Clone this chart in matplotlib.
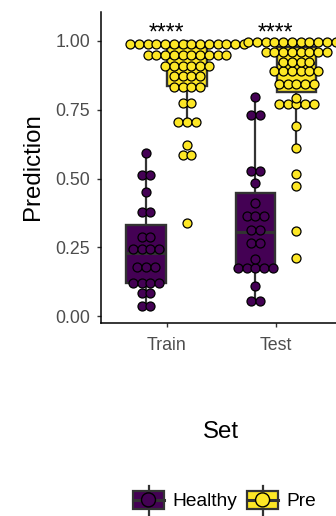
import numpy as np
import matplotlib
matplotlib.use("Agg")
import matplotlib.pyplot as plt
from matplotlib.patches import Rectangle, Circle, Patch
from matplotlib.lines import Line2D
from matplotlib.legend_handler import HandlerBase

plt.rcParams['font.family'] = ['Liberation Sans', 'DejaVu Sans']

# ---- data -------------------------------------------------------------
sets = ["Train", "Test"]
groups = ["Healthy", "Pre"]
group_colors = ["#440154", "#FDE725"]
signif_labels = ["****", "****"]
y_ticks = [0.00, 0.25, 0.50, 0.75, 1.00]

train_healthy = [0.032, 0.040, 0.080, 0.090, 0.113, 0.118, 0.124, 0.129,
                 0.170, 0.177, 0.184, 0.228, 0.238, 0.248, 0.258,
                 0.280, 0.292, 0.372, 0.384, 0.450, 0.508, 0.520, 0.594]
train_pre = [0.339, 0.586, 0.588, 0.620, 0.700, 0.707, 0.714, 0.768, 0.778,
             0.828, 0.832, 0.836, 0.838, 0.868, 0.872, 0.875, 0.878,
             0.902, 0.905, 0.908, 0.910, 0.912, 0.914,
             0.940, 0.942, 0.943, 0.945, 0.946, 0.948, 0.949, 0.951, 0.952, 0.954,
             0.976, 0.977, 0.979, 0.981, 0.983, 0.985, 0.987, 0.989, 0.991,
             0.993, 0.995, 0.997, 0.999, 1.000]
test_healthy = [0.050, 0.060, 0.109, 0.170, 0.173, 0.176, 0.179, 0.182,
                0.208, 0.262, 0.272, 0.304, 0.322, 0.356, 0.364, 0.372,
                0.412, 0.485, 0.522, 0.534, 0.726, 0.736, 0.797]
test_pre = [0.210, 0.310, 0.474, 0.516, 0.610, 0.692,
            0.760, 0.765, 0.770, 0.775, 0.780, 0.793,
            0.836, 0.840, 0.845, 0.850, 0.854,
            0.884, 0.887, 0.890, 0.892, 0.895, 0.898,
            0.920, 0.923, 0.927, 0.930,
            0.955, 0.957, 0.959, 0.961, 0.962, 0.964, 0.966, 0.967,
            0.990, 0.991, 0.992, 0.993, 0.994, 0.995, 0.996, 0.997,
            0.998, 0.999, 1.000, 1.000]

values = {("Train", "Healthy"): train_healthy, ("Train", "Pre"): train_pre,
          ("Test", "Healthy"): test_healthy, ("Test", "Pre"): test_pre}

# ---- layout -----------------------------------------------------------
W, H, DPI = 336, 516, 100
fig = plt.figure(figsize=(W / DPI, H / DPI), dpi=DPI)
ax = fig.add_axes([101 / W, 1 - 323 / H, (341.4 - 101) / W, (323 - 12) / H])
ax.set_xlim(-0.6, 1.6)
ax.set_ylim(-0.025, 1.105)

dodge = 0.1875
box_width = 0.36
binwidth = 0.0316          # dot diameter in y units
dot_step = 0.080           # dot diameter in x units
edge_grey = "#333333"


def dot_bins(vals, width):
    """Dot-density binning: a bin opens at its smallest value and spans `width`."""
    v = np.sort(np.asarray(vals, float))
    bins, end = [], -np.inf
    for x in v:
        if x >= end:
            bins.append([x])
            end = x + width
        else:
            bins[-1].append(x)
    return [((b[0] + b[-1]) / 2, len(b)) for b in bins]


# boxes
for i, s in enumerate(sets):
    for j, g in enumerate(groups):
        pos = i + (j - 0.5) * 2 * dodge
        ax.boxplot(values[(s, g)], positions=[pos], widths=box_width,
                   patch_artist=True, showfliers=False, showcaps=False, whis=1.5,
                   boxprops=dict(facecolor=group_colors[j], edgecolor=edge_grey, linewidth=1.7),
                   medianprops=dict(color=edge_grey, linewidth=2.2),
                   whiskerprops=dict(color=edge_grey, linewidth=1.6),
                   zorder=2, manage_ticks=False)

# centred dot stacks
for i, s in enumerate(sets):
    for j, g in enumerate(groups):
        pos = i + (j - 0.5) * 2 * dodge
        xs, ys = [], []
        for c, n in dot_bins(values[(s, g)], binwidth):
            offs = (np.arange(n) - (n - 1) / 2) * dot_step
            xs.extend(pos + offs)
            ys.extend([c] * n)
        ax.scatter(xs, ys, s=42, facecolor=group_colors[j], edgecolor="black",
                   linewidth=0.9, zorder=3, clip_on=False)

# significance labels
for i, lab in enumerate(signif_labels):
    ax.text(i, 1.030, lab, ha="center", va="center", fontsize=16.5, color="black")

# axes styling
for side in ("top", "right"):
    ax.spines[side].set_visible(False)
for side in ("left", "bottom"):
    ax.spines[side].set_linewidth(1.1)
    ax.spines[side].set_color("black")
ax.set_xticks(range(len(sets)))
ax.set_xticklabels(sets)
ax.set_yticks(y_ticks)
ax.set_yticklabels([f"{t:.2f}" for t in y_ticks])
ax.tick_params(length=3, width=1, color=edge_grey, labelsize=12.8,
               labelcolor="#4D4D4D")
ax.tick_params(axis="y", pad=5)
ax.tick_params(axis="x", pad=7)

fig.text(33 / W, 1 - 167 / H, "Prediction", rotation=90, ha="center", va="center",
         fontsize=17.3, color="black")
fig.text(221 / W, 1 - 432.5 / H, "Set", ha="center", va="center",
         fontsize=17.3, color="black")


# legend keys: a small box with whiskers, median and a dot
class BoxDotHandler(HandlerBase):
    def create_artists(self, legend, orig_handle, xdescent, ydescent, width, height,
                       fontsize, trans):
        fc = orig_handle.get_facecolor()
        px = 0.72
        x0, y0 = -xdescent, -ydescent
        cx, cy = x0 + width / 2, y0 + height / 2
        bh = 18 * px
        arts = [
            Line2D([cx, cx], [cy - bh / 2 - 6 * px, cy - bh / 2], color=edge_grey, lw=1.6),
            Line2D([cx, cx], [cy + bh / 2, cy + bh / 2 + 5 * px], color=edge_grey, lw=1.6),
            Rectangle((x0, cy - bh / 2), width, bh, facecolor=fc, edgecolor=edge_grey, lw=1.6),
            Line2D([x0, x0 + width], [cy, cy], color=edge_grey, lw=2.2),
            Circle((cx, cy), 7 * px, facecolor=fc, edgecolor="black", lw=1.0),
        ]
        for a in arts:
            a.set_transform(trans)
        return arts


handles = [Patch(facecolor=c) for c in group_colors]
fs_leg = 13.8
fig.legend(handles, groups, handler_map={Patch: BoxDotHandler()},
           loc="center left", bbox_to_anchor=(133 / W, 1 - 501 / H), ncol=2,
           frameon=False, fontsize=fs_leg, borderpad=0, borderaxespad=0,
           handlelength=31 / (fs_leg / 0.72), handleheight=0.97,
           handletextpad=0.45, columnspacing=0.5)

fig.savefig("out.png", dpi=DPI)
